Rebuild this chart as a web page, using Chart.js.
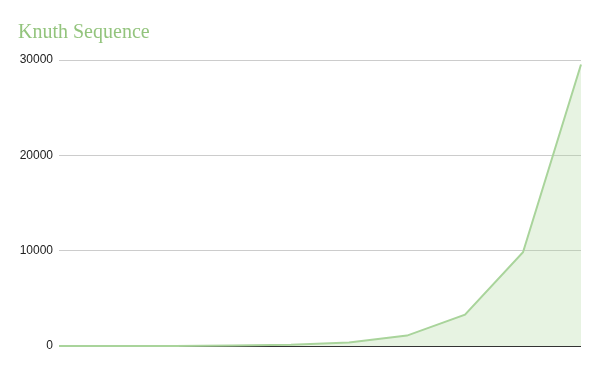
<!DOCTYPE html>
<html lang="en">
  <head>
    <meta charset="UTF-8" />
    <title>Knuth Sequence</title>
    <style>
      html, body { margin: 0; padding: 0; background: #fff; }
      #wrap { width: 600px; height: 371px; }
    </style>
  </head>
  <body>
    <div id="wrap"><canvas id="chartJSContainer" width="600" height="371"></canvas></div>
    <script src="https://cdn.jsdelivr.net/npm/chart.js@4.4.0/dist/chart.umd.min.js"></script>
    <script>
      // Knuth gap sequence, one point per step
      const steps = ["1", "2", "3", "4", "5", "6", "7", "8", "9", "10"];
      const gaps = [1, 4, 13, 40, 121, 364, 1093, 3280, 9841, 29524];
      const yTicks = [0, 10000, 20000, 30000];

      const data = {
        labels: steps,
        datasets: [{
          label: "Knuth Sequence",
          data: gaps,
          borderColor: "#a9d49b",
          backgroundColor: "rgba(168, 212, 152, 0.28)",
          borderWidth: 2,
          pointRadius: 0,
          tension: 0,
          fill: "origin",
          clip: 4
        }]
      };

      const options = {
        responsive: false,
        animation: false,
        layout: { padding: { left: 18, right: 19, top: 0, bottom: 25 } },
        plugins: {
          legend: { display: false },
          tooltip: { enabled: false },
          title: {
            display: true,
            text: "Knuth Sequence",
            align: "start",
            color: "#93c47d",
            font: { family: "'Liberation Serif', 'Times New Roman', serif", size: 20, weight: "normal" },
            padding: { top: 21, bottom: 15 }
          }
        },
        scales: {
          x: { display: false },
          y: {
            min: 0,
            max: 30000,
            afterBuildTicks: (scale) => { scale.ticks = yTicks.map(v => ({ value: v })); },
            afterFit: (scale) => { scale.width = 41; },
            border: { display: false },
            grid: {
              drawTicks: false,
              color: (c) => c.tick && c.tick.value === 0 ? "#333333" : "#cccccc"
            },
            ticks: {
              padding: 6,
              color: "#222",
              font: { family: "'Liberation Sans', Arial, sans-serif", size: 12 },
              callback: (v) => String(v)
            }
          }
        }
      };

      const ctx = document.getElementById("chartJSContainer").getContext("2d");
      new Chart(ctx, { type: "line", data, options });
    </script>
  </body>
</html>
